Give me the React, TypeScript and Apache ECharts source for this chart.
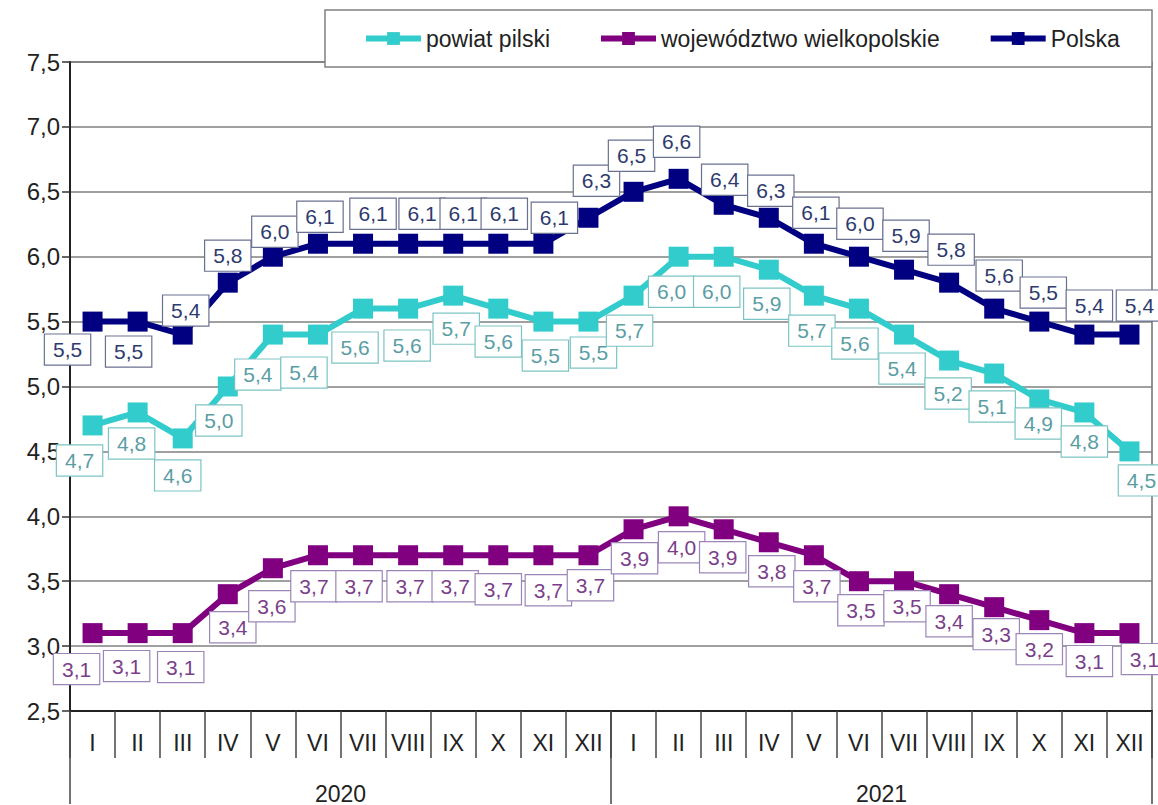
import React, { useEffect, useRef } from "react";
import * as echarts from "echarts";

const months = ["I","II","III","IV","V","VI","VII","VIII","IX","X","XI","XII","I","II","III","IV","V","VI","VII","VIII","IX","X","XI","XII"];
const years = ["2020", "2021"];
const seriesNames = ["powiat pilski", "województwo wielkopolskie", "Polska"];

const powiat = [4.7,4.8,4.6,5.0,5.4,5.4,5.6,5.6,5.7,5.6,5.5,5.5, 5.7,6.0,6.0,5.9,5.7,5.6,5.4,5.2,5.1,4.9,4.8,4.5];
const wojewodztwo = [3.1,3.1,3.1,3.4,3.6,3.7,3.7,3.7,3.7,3.7,3.7,3.7, 3.9,4.0,3.9,3.8,3.7,3.5,3.5,3.4,3.3,3.2,3.1,3.1];
const polska = [5.5,5.5,5.4,5.8,6.0,6.1,6.1,6.1,6.1,6.1,6.1,6.3, 6.5,6.6,6.4,6.3,6.1,6.0,5.9,5.8,5.6,5.5,5.4,5.4];

// label offsets (style only): [dx, dy] from marker centre
const polskaOff = [[-25,28],[-9,30],[3,-24],[0,-27],[2,-25],[2,-27],[10,-30],[14,-30],[10,-30],[6,-30],[11,-26],[8,-37],[-2,-36],[-2,-37],[1,-25],[2,-27],[2,-31],[1,-33],[2,-34],[2,-33],[5,-33],[4,-29],[5,-29],[10,-29]];
const powiatOff = [[-13,35],[-6,31],[-5,37],[-9,34],[-15,40],[-14,38],[-8,39],[-1,37],[3,33],[0,33],[2,34],[5,31],[-4,35],[-7,35],[-7,35],[-2,34],[-2,35],[-4,35],[-2,34],[-1,33],[-2,33],[-1,24],[0,29],[12,29]];
const wojOff = [[-16,36],[-11,33],[-2,34],[5,33],[-1,38],[-4,31],[-4,31],[2,31],[2,31],[0,34],[5,35],[2,30],[1,29],[3,31],[-1,28],[3,29],[3,31],[2,29],[3,25],[0,27],[2,27],[0,29],[5,28],[15,26]];

const FONT = "'Liberation Sans', Arial, sans-serif";
const fmt = (v: number) => v.toFixed(1).replace(".", ",");

function makeSeries(name: string, values: number[], offs: number[][], color: string, textColor: string, borderColor: string) {
  return {
    name,
    type: "line",
    xAxisIndex: 0,
    yAxisIndex: 0,
    symbol: "rect",
    symbolSize: 20,
    lineStyle: { color, width: 6 },
    itemStyle: { color },
    label: {
      show: true,
      position: "inside",
      formatter: (p: any) => fmt(p.value),
      fontFamily: FONT,
      fontSize: 21,
      lineHeight: 21,
      color: textColor,
      backgroundColor: "#ffffff",
      borderColor,
      borderWidth: 1.2,
      padding: [5, 8, 4, 8],
    },
    data: values.map((v, i) => ({ value: v, label: { offset: offs[i] } })),
  };
}

export default function App() {
  const ref = useRef<HTMLDivElement>(null);
  useEffect(() => {
    if (!ref.current) return;
    const chart = echarts.init(ref.current, undefined, { renderer: "svg" });
    chart.setOption({
      animation: false,
      backgroundColor: "#ffffff",
      grid: { left: 70, right: 6, top: 62, bottom: 92, show: true, borderColor: "#707070", borderWidth: 1.5, backgroundColor: "transparent" },
      graphic: [
        { type: "rect", z: 50, shape: { x: 325, y: 10, width: 827, height: 57 }, style: { fill: "#ffffff", stroke: "#808080", lineWidth: 1.5 } },
      ],
      legend: {
        z: 60,
        left: 363,
        top: 27,
        itemWidth: 55,
        itemHeight: 16,
        itemGap: 48,
        padding: 0,
        lineStyle: { width: 6 },
        textStyle: { fontFamily: FONT, fontSize: 23, color: "#222" },
        data: seriesNames,
      },
      xAxis: [
        {
          type: "category",
          data: months,
          position: "bottom",
          boundaryGap: true,
          axisLine: { show: true, lineStyle: { color: "#222", width: 2 } },
          axisTick: { show: true, interval: 0, length: 47, lineStyle: { color: "#444", width: 1.5 } },
          axisLabel: { interval: 0, margin: 20, fontFamily: FONT, fontSize: 23, color: "#222" },
          splitLine: { show: false },
        },
        {
          type: "category",
          data: years,
          position: "bottom",
          offset: 0,
          boundaryGap: true,
          axisLine: { show: false },
          axisTick: { show: true, interval: 0, length: 93, lineStyle: { color: "#444", width: 1.5 } },
          axisLabel: { interval: 0, margin: 71, fontFamily: FONT, fontSize: 23, color: "#222" },
          splitLine: { show: false },
        },
      ],
      yAxis: {
        type: "value",
        min: 2.5,
        max: 7.5,
        interval: 0.5,
        axisLine: { show: true, lineStyle: { color: "#222", width: 2 } },
        axisTick: { show: true, length: 8, lineStyle: { color: "#333", width: 1.5 } },
        axisLabel: { margin: 10, fontFamily: FONT, fontSize: 24, color: "#222", formatter: (v: number) => fmt(v) },
        splitLine: { show: true, lineStyle: { color: "#808080", width: 1.5 } },
      },
      series: [
        makeSeries(seriesNames[0], powiat, powiatOff, "#33CCCC", "#5a9ea4", "#7cc4c4"),
        makeSeries(seriesNames[1], wojewodztwo, wojOff, "#800080", "#7b3f8a", "#9c86b8"),
        makeSeries(seriesNames[2], polska, polskaOff, "#000080", "#2e3b6e", "#6a7090"),
      ],
    });
    return () => chart.dispose();
  }, []);
  return <div ref={ref} style={{ position: "absolute", left: 0, top: 0, width: 1158, height: 805 }} />;
}
